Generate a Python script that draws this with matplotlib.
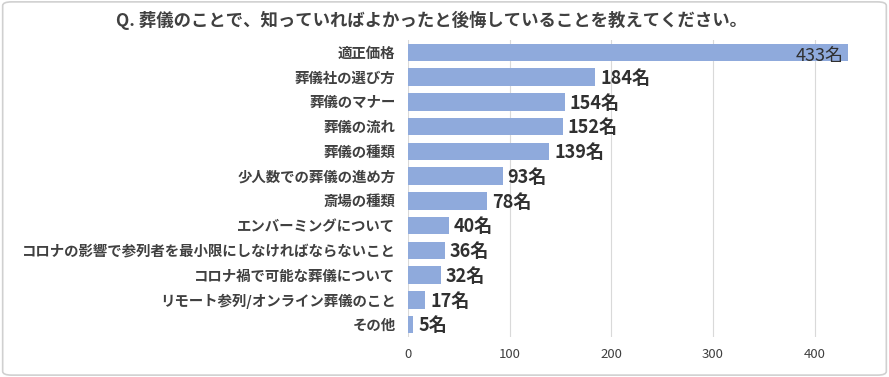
import matplotlib
matplotlib.use("Agg")
import matplotlib.pyplot as plt
from matplotlib.patches import FancyBboxPatch

plt.rcParams['font.family'] = ['Noto Sans CJK JP', 'DejaVu Sans']

categories = ["適正価格", "葬儀社の選び方", "葬儀のマナー", "葬儀の流れ", "葬儀の種類",
              "少人数での葬儀の進め方", "斎場の種類", "エンバーミングについて",
              "コロナの影響で参列者を最小限にしなければならないこと",
              "コロナ禍で可能な葬儀について", "リモート参列/オンライン葬儀のこと", "その他"]
values = [433, 184, 154, 152, 139, 93, 78, 40, 36, 32, 17, 5]
xticks = [0, 100, 200, 300, 400]
title = "Q. 葬儀のことで、知っていればよかったと後悔していることを教えてください。"

fig = plt.figure(figsize=(8.89, 3.77), dpi=100)
fig.patches.append(FancyBboxPatch((0.003, 0.005), 0.994, 0.99, boxstyle="round,pad=0,rounding_size=0.01",
                                  transform=fig.transFigure, fill=False, edgecolor="#d0d0d0", linewidth=1.2))
ax = fig.add_axes([0.459, 0.106, 0.495, 0.788])
y = list(range(len(categories)))
ax.barh(y, values, height=0.7, color="#8faadc", zorder=2)
ax.set_ylim(len(categories) - 0.5, -0.5)
ax.set_xlim(0, 433)
ax.set_xticks(xticks)
ax.set_xticklabels([str(t) for t in xticks], fontsize=9.5, color="#404040")
ax.set_yticks(y)
ax.set_yticklabels(categories, fontsize=10.4, fontweight="bold", color="#404040")
ax.tick_params(axis='y', length=0, pad=9)
ax.tick_params(axis='x', length=0, pad=8)
ax.grid(axis='x', color="#d9d9d9", linewidth=0.8, zorder=0)
for s in ax.spines.values():
    s.set_visible(False)
for i, v in enumerate(values):
    if v == max(values):
        ax.text(v - 4, i + 0.15, f"{v}名", ha='right', va='center', fontsize=13,
                color="#303030")
    else:
        ax.text(v + 5, i + 0.05, f"{v}名", ha='left', va='center', fontsize=13,
                fontweight='bold', color="#303030")
fig.text(0.485, 0.945, title, ha='center', va='center', fontsize=12.5, fontweight='bold', color="#404040")
fig.savefig("out.png", dpi=100)
